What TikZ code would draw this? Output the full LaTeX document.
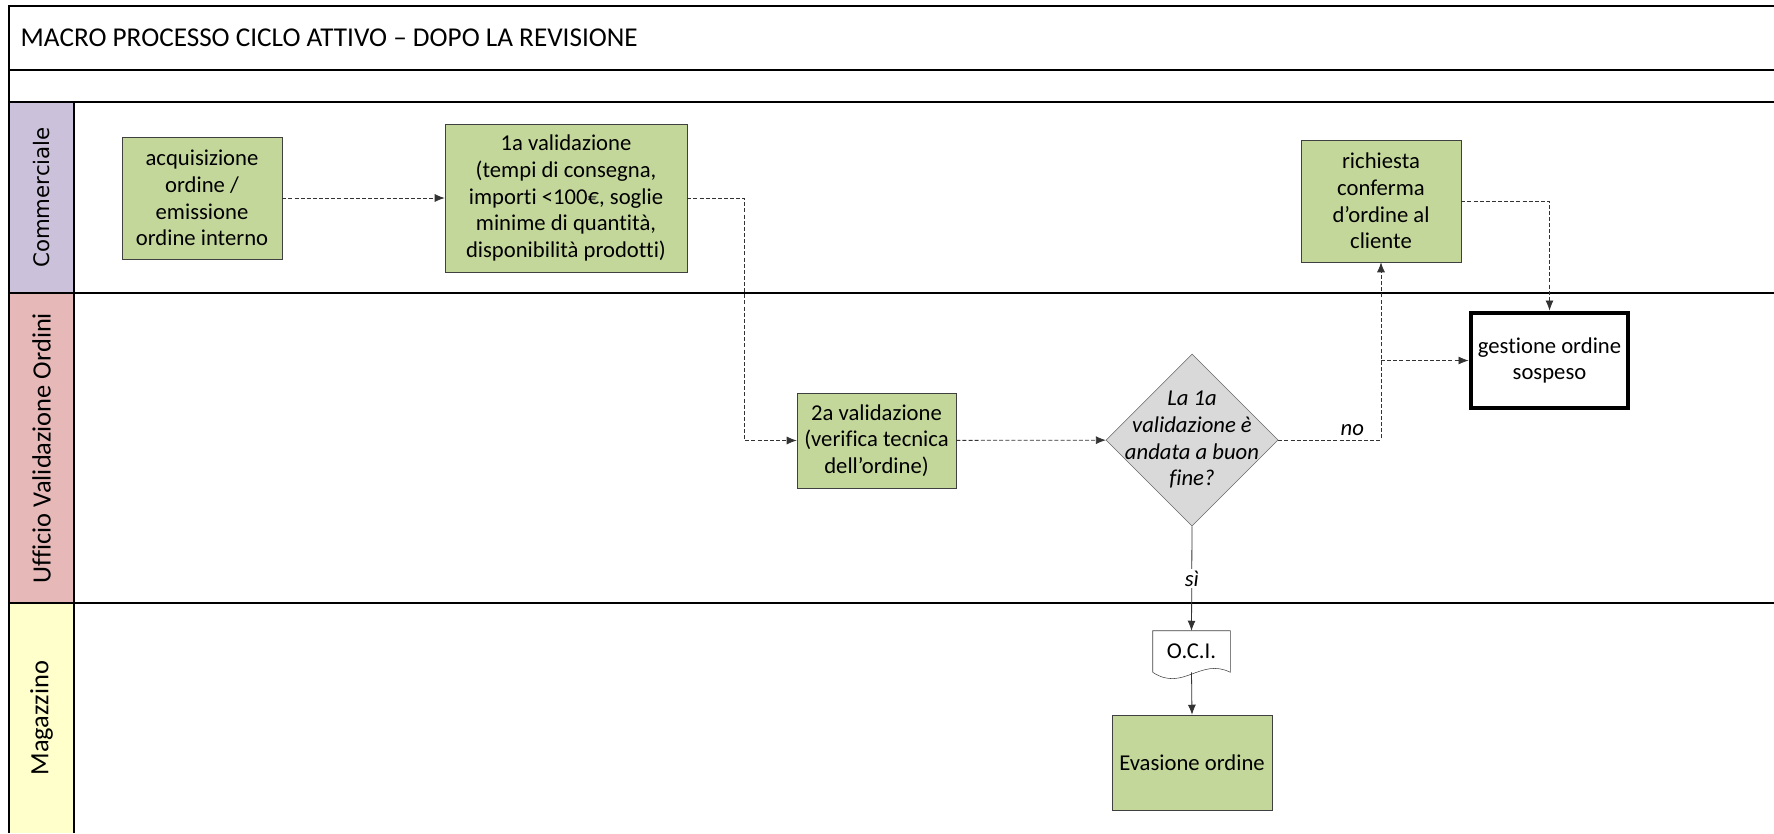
\documentclass[tikz,border=0pt]{standalone}
\usepackage{fontspec}
\setmainfont{Carlito}[Ligatures=NoCommon]
\newfontfamily\lanefont{DejaVu Sans}
\usetikzlibrary{positioning}
\usetikzlibrary{shapes.geometric}
\usetikzlibrary{arrows.meta}

\definecolor{taskgreen}{HTML}{C4D79B}
\definecolor{lanecomm}{HTML}{CCC1DA}
\definecolor{laneuff}{HTML}{E6B9B8}
\definecolor{lanemag}{HTML}{FFFFCC}
\definecolor{decgray}{HTML}{D9D9D9}

\tikzset{
  task/.style={rectangle,draw=black!75,fill=taskgreen,align=center,inner sep=2pt,
    font=\fontsize{17}{20}\selectfont},
  flow/.style={->,draw=black!80,dash pattern=on 3pt off 1.6pt,line width=0.6pt},
  solidflow/.style={->,draw=black!80,line width=0.6pt},
  laneline/.style={line width=1.2pt},
  lanelabel/.style={rotate=90,font=\fontsize{19.8}{22}\selectfont}
}

\begin{document}
\begin{tikzpicture}[x=0.75pt,y=-0.75pt,>={Latex[length=7.5pt,width=6pt]}]
    \useasboundingbox (0,0) rectangle (1774,833);

    \fill[lanecomm] (9,102) rectangle (74,293);
    \fill[laneuff] (9,293) rectangle (74,603);
    \fill[lanemag] (9,603) rectangle (74,833);
    \draw[laneline] (1774,6) -- (9,6) -- (9,833);
    \draw[laneline] (9,70) -- (1774,70);
    \draw[laneline] (9,102) -- (1774,102);
    \draw[laneline] (9,293) -- (1774,293);
    \draw[laneline] (9,603) -- (1774,603);
    \draw[laneline] (74,102) -- (74,833);

    \node[anchor=west,font=\fontsize{20.4}{22}\selectfont] at (16,38) (title) {MACRO PROCESSO CICLO ATTIVO -- DOPO LA REVISIONE};
    \node[lanelabel,font=\lanefont\fontsize{16}{18}\selectfont] at (41.5,197.5) (comm) {Commerciale};
    \node[lanelabel] at (41.5,448) (uff) {Ufficio Validazione Ordini};
    \node[lanelabel] at (41.5,718) (mag) {Magazzino};

    \node[task,minimum width=120pt,minimum height=91.5pt] at (202,198) (acq) {acquisizione\\ordine /\\emissione\\ordine interno};
    \node[task,minimum width=181.5pt,minimum height=111pt] at (566,198) (val1) {1a validazione\\(tempi di consegna,\\importi <100€, soglie\\minime di quantità,\\disponibilità prodotti)};
    \node[task,minimum width=120pt,minimum height=91.5pt] at (1381,201) (rich) {richiesta\\conferma\\d’ordine al\\cliente};
    \node[task,minimum width=119.25pt,minimum height=71.25pt] at (876.5,440.5) (val2) {2a validazione\\(verifica tecnica\\dell’ordine)};
    \node[rectangle,draw,line width=3.4pt,fill=white,align=center,minimum width=118pt,minimum height=71.5pt,
      font=\fontsize{17}{20}\selectfont] at (1549.5,360.5) (gest) {gestione ordine\\sospeso};
    \node[diamond,draw=black!60,fill=decgray,minimum width=129pt,minimum height=129pt,inner sep=0pt,
      label={[align=center,font=\itshape\fontsize{17}{20}\selectfont]center:La 1a\\validazione è\\andata a buon\\fine?}] at (1192,440) (dec) {};
    \node[minimum width=57.75pt,minimum height=30.75pt,inner sep=0pt,font=\fontsize{17}{20}\selectfont] at (1191.5,651.5) (oci) {O.C.I.};
    \draw[black!75] (oci.north west) -- (oci.north east) -- (oci.south east)
      .. controls +(-30,-15) and +(30,20) .. (oci.south west) -- cycle;
    \node[task,minimum width=120pt,minimum height=71.25pt] at (1192,762.5) (eva) {Evasione ordine};

    \coordinate (split) at (rich.south |- gest.west);

    \draw[flow] (acq) -- (val1);
    \draw[flow] (val1.east) -- ++(57,0) |- (val2.west);
    \draw[flow] (val2) -- (dec);
    \draw[flow] (dec.east) -| node[pos=0.36,above,font=\itshape\fontsize{17}{20}\selectfont] {no} (rich.south);
    \draw[flow] (split) -- (gest.west);
    \draw[flow] (rich.east) -| (gest.north);
    \draw[solidflow] (dec.south) -- node[fill=white,inner sep=1pt,font=\itshape\fontsize{17}{20}\selectfont] {sì} (oci.north);
    \draw[solidflow] (oci.south) -- (eva.north);

\end{tikzpicture}
\end{document}
